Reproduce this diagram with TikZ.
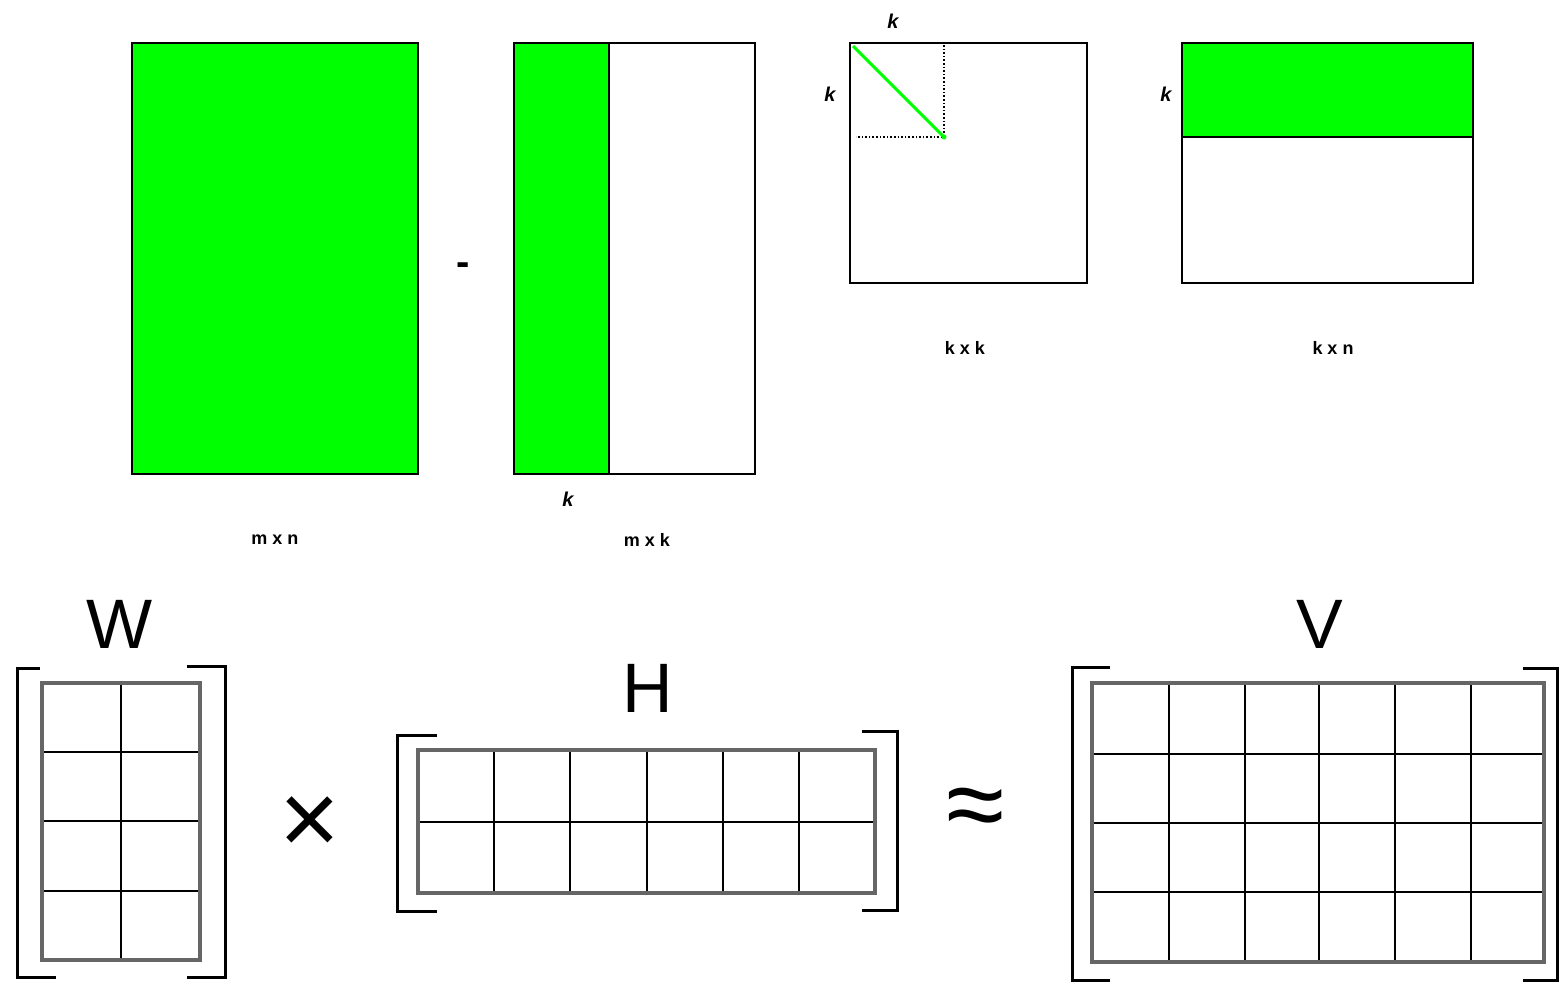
\documentclass[tikz,border=0pt]{standalone}
\usepackage{fontspec}
\setmainfont{Liberation Sans}
\begin{document}
\begin{tikzpicture}[x=1pt,y=-1pt,
    box/.style={draw=black,line width=2.5pt},
    frame/.style={draw=black!60,line width=4pt},
    cell/.style={draw=black,line width=2.2pt},
    brack/.style={draw=black,line width=3pt},
    dimlabel/.style={font=\fontsize{18}{18}\selectfont\bfseries},
    klabel/.style={font=\fontsize{20}{20}\selectfont\bfseries\itshape},
    letter/.style={font=\fontsize{70}{70}\selectfont,anchor=base}]
    \useasboundingbox (0,0) rectangle (1559,985);
    % top row: m x n - m x k . k x k . k x n
    \fill[green] (132,43) rectangle (418,474);
    \draw[box] (132,43) rectangle (418,474);
    \node[font=\fontsize{40}{40}\selectfont\bfseries] (minus) at (463,269) {-};
    \fill[green] (514,43) rectangle (609,474);
    \draw[box] (514,43) rectangle (755,474);
    \draw[box] (609,43) -- (609,474);
    \node[klabel] (k1) at (568,499) {k};
    \node[dimlabel] (mn) at (275,540) {m x n};
    \node[dimlabel] (mk) at (647,540) {m x k};
    \draw[box] (850,43) rectangle (1087,283);
    \draw[black,dotted,line width=1.6pt] (944,45) -- (944,137) -- (856,137);
    \draw[green,line width=3pt] (853,46) -- (944,137);
    \fill[green] (944,137) circle (2.5pt);
    \node[klabel] (k2) at (893,21) {k};
    \node[klabel] (k3) at (830,94) {k};
    \node[dimlabel] (kk) at (965,348) {k x k};
    \fill[green] (1182,43) rectangle (1473,137);
    \draw[box] (1182,43) rectangle (1473,283);
    \draw[box] (1182,137) -- (1473,137);
    \node[klabel] (k4) at (1166,94) {k};
    \node[dimlabel] (kn) at (1333,348) {k x n};
    % bottom row: W x H ~ V
    \node[letter] (W) at (120,648) {W};
    \foreach \x in {121} \draw[cell] (\x,683) -- (\x,960);
    \foreach \y in {752,821,891} \draw[cell] (42,\y) -- (200,\y);
    \draw[frame] (42,683) rectangle (200,960);
    \draw[brack] (40,668) -- (17,668) -- (17,977) -- (56,977);
    \draw[brack] (187,666) -- (225,666) -- (225,977) -- (187,977);
    \node[font=\fontsize{104}{104}\selectfont] (times) at (310,826) {×};
    \node[letter] (H) at (648,712) {H};
    \foreach \x in {494,570,647,723,799} \draw[cell] (\x,750) -- (\x,893);
    \draw[cell] (418,822) -- (875,822);
    \draw[frame] (418,750) rectangle (875,893);
    \draw[brack] (437,735) -- (397,735) -- (397,911) -- (437,911);
    \draw[brack] (862,731) -- (897,731) -- (897,910) -- (862,910);
    \node[font=\fontsize{106}{106}\selectfont] (approx) at (976,814) {≈};
    \node[letter] (V) at (1320,648) {V};
    \foreach \x in {1169,1245,1319,1395,1471} \draw[cell] (\x,683) -- (\x,962);
    \foreach \y in {754,823,892} \draw[cell] (1092,\y) -- (1544,\y);
    \draw[frame] (1092,683) rectangle (1544,962);
    \draw[brack] (1110,667) -- (1072,667) -- (1072,980) -- (1110,980);
    \draw[brack] (1523,668) -- (1557,668) -- (1557,980) -- (1523,980);
\end{tikzpicture}
\end{document}
